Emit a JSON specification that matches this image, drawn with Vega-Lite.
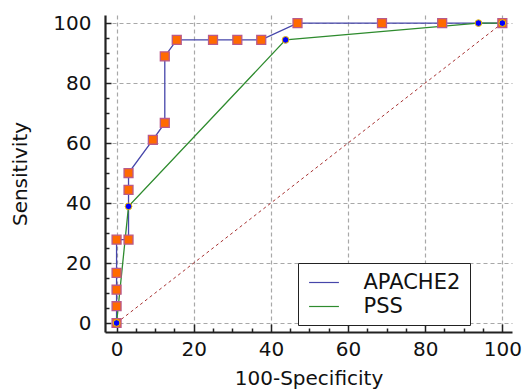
{
  "$schema": "https://vega.github.io/schema/vega-lite/v6.json",
  "width": 407,
  "height": 317,
  "autosize": {"type": "none"},
  "padding": {"left": 105, "top": 15, "right": 15, "bottom": 57},
  "background": "white",
  "config": {
    "font": "DejaVu Sans",
    "view": {"stroke": null},
    "axis": {
      "domainColor": "#222222",
      "domainWidth": 2.2,
      "tickColor": "#222222",
      "tickWidth": 1.5,
      "labelColor": "#111111",
      "titleColor": "#111111",
      "labelFont": "DejaVu Sans",
      "titleFont": "DejaVu Sans",
      "titleFontWeight": "normal",
      "gridColor": "#a8a8a8",
      "gridDash": [4, 3],
      "gridWidth": 1.2
    }
  },
  "datasets": {
    "roc": [
      {"s": "APACHE2", "i": 0, "fpr": 0, "sens": 0},
      {"s": "APACHE2", "i": 1, "fpr": 0, "sens": 5.6},
      {"s": "APACHE2", "i": 2, "fpr": 0, "sens": 11.1},
      {"s": "APACHE2", "i": 3, "fpr": 0, "sens": 16.7},
      {"s": "APACHE2", "i": 4, "fpr": 0, "sens": 27.8},
      {"s": "APACHE2", "i": 5, "fpr": 3.1, "sens": 27.8},
      {"s": "APACHE2", "i": 6, "fpr": 3.1, "sens": 44.4},
      {"s": "APACHE2", "i": 7, "fpr": 3.1, "sens": 50},
      {"s": "APACHE2", "i": 8, "fpr": 9.4, "sens": 61.1},
      {"s": "APACHE2", "i": 9, "fpr": 12.5, "sens": 66.7},
      {"s": "APACHE2", "i": 10, "fpr": 12.5, "sens": 88.9},
      {"s": "APACHE2", "i": 11, "fpr": 15.6, "sens": 94.4},
      {"s": "APACHE2", "i": 12, "fpr": 25, "sens": 94.4},
      {"s": "APACHE2", "i": 13, "fpr": 31.3, "sens": 94.4},
      {"s": "APACHE2", "i": 14, "fpr": 37.5, "sens": 94.4},
      {"s": "APACHE2", "i": 15, "fpr": 46.9, "sens": 100},
      {"s": "APACHE2", "i": 16, "fpr": 68.8, "sens": 100},
      {"s": "APACHE2", "i": 17, "fpr": 84.4, "sens": 100},
      {"s": "APACHE2", "i": 18, "fpr": 100, "sens": 100},
      {"s": "PSS", "i": 0, "fpr": 0, "sens": 0},
      {"s": "PSS", "i": 1, "fpr": 3.1, "sens": 38.9},
      {"s": "PSS", "i": 2, "fpr": 43.8, "sens": 94.4},
      {"s": "PSS", "i": 3, "fpr": 93.8, "sens": 100},
      {"s": "PSS", "i": 4, "fpr": 100, "sens": 100}
    ],
    "diag": [
      {"fpr": 0, "sens": 0},
      {"fpr": 100, "sens": 100}
    ]
  },
  "resolve": {"axis": {"x": "independent", "y": "independent"}},
  "layer": [
    {
      "data": {"name": "diag"},
      "mark": {"type": "line", "color": "#a83232", "strokeDash": [3, 3], "strokeWidth": 1},
      "encoding": {
        "x": {
          "field": "fpr", "type": "quantitative",
          "scale": {"domain": [-3, 102.5], "nice": false, "zero": false},
          "axis": {
            "orient": "bottom",
            "values": [0, 20, 40, 60, 80, 100],
            "grid": true,
            "tickSize": -8,
            "labelPadding": 15,
            "labelFontSize": 20,
            "title": "100-Specificity",
            "titleFontSize": 20,
            "titlePadding": 9
          }
        },
        "y": {
          "field": "sens", "type": "quantitative",
          "scale": {"domain": [-3, 102.7], "nice": false, "zero": false},
          "axis": {
            "orient": "left",
            "values": [0, 20, 40, 60, 80, 100],
            "grid": true,
            "tickSize": -6,
            "labelPadding": 20,
            "labelFontSize": 20,
            "title": "Sensitivity",
            "titleFontSize": 20,
            "titlePadding": 22
          }
        }
      }
    },
    {
      "data": {"name": "roc"},
      "mark": {"type": "line", "strokeWidth": 1.3},
      "encoding": {
        "x": {
          "field": "fpr", "type": "quantitative",
          "axis": {
            "orient": "bottom",
            "values": [5, 10, 15, 25, 30, 35, 45, 50, 55, 65, 70, 75, 85, 90, 95],
            "labels": false, "grid": false, "domain": false,
            "tickSize": -4, "title": null
          }
        },
        "y": {
          "field": "sens", "type": "quantitative",
          "axis": {
            "orient": "left",
            "values": [5, 10, 15, 25, 30, 35, 45, 50, 55, 65, 70, 75, 85, 90, 95],
            "labels": false, "grid": false, "domain": false,
            "tickSize": -4, "title": null
          }
        },
        "order": {"field": "i", "type": "quantitative"},
        "stroke": {
          "field": "s", "type": "nominal",
          "scale": {"domain": ["APACHE2", "PSS"], "range": ["#4646aa", "#2e8b2e"]},
          "legend": {
            "orient": "none",
            "legendX": 193,
            "legendY": 248,
            "title": "\u00a0\u00a0\u00a0\u00a0\u00a0\u00a0\u00a0\u00a0",
            "titleOrient": "right",
            "titleFontSize": 21,
            "titlePadding": 2,
            "symbolType": "M-1.42,0H1.42",
            "symbolSize": 441,
            "symbolOffset": 6.5,
            "symbolStrokeWidth": 1.2,
            "labelFontSize": 21,
            "labelColor": "#111111",
            "labelOffset": 28,
            "padding": 8,
            "rowPadding": 2,
            "strokeColor": "#222222",
            "fillColor": "white"
          }
        }
      }
    },
    {
      "data": {"name": "roc"},
      "transform": [{"filter": "datum.s === 'APACHE2'"}],
      "mark": {"type": "square", "size": 80, "filled": true, "fill": "#ff6a00", "stroke": "#b85a8c", "strokeWidth": 1.3, "opacity": 1},
      "encoding": {
        "x": {"field": "fpr", "type": "quantitative", "axis": null},
        "y": {"field": "sens", "type": "quantitative", "axis": null}
      }
    },
    {
      "data": {"name": "roc"},
      "transform": [{"filter": "datum.s === 'PSS'"}],
      "mark": {"type": "circle", "size": 45, "fill": "#0000ff", "stroke": "#f2c200", "strokeWidth": 1, "opacity": 1},
      "encoding": {
        "x": {"field": "fpr", "type": "quantitative", "axis": null},
        "y": {"field": "sens", "type": "quantitative", "axis": null}
      }
    }
  ]
}
